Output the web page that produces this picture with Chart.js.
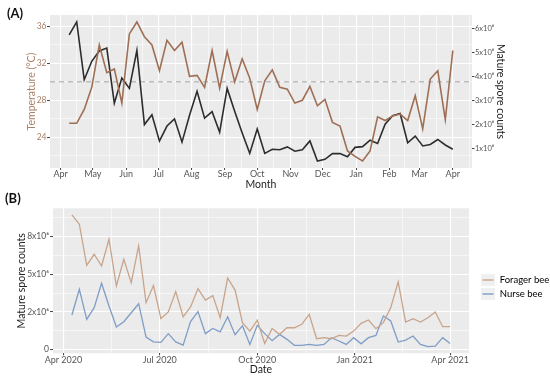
<!DOCTYPE html>
<html><head><meta charset="utf-8">
<script src="https://cdn.jsdelivr.net/npm/chart.js@4.4.0/dist/chart.umd.min.js"></script>
<style>
html,body{margin:0;padding:0;background:#fff;overflow:hidden;}
#wrap{position:relative;width:550px;height:378px;}
canvas{position:absolute;left:0;}
#cA{top:0;} #cB{top:190px;}
.panel{position:absolute;font-family:Lato,'Open Sans',sans-serif;font-weight:bold;font-size:13px;line-height:1.2;color:#111;}
</style></head><body>
<div id="wrap">
<canvas id="cA" width="550" height="192" style="width:550px;height:192px"></canvas>
<canvas id="cB" width="550" height="188" style="width:550px;height:188px"></canvas>
<div class="panel" style="left:7px;top:6px">(A)</div>
<div class="panel" style="left:5px;top:191px">(B)</div>
</div>
<script>
// ---------------- data ----------------
const weekDates = ['2020-04-09','2020-04-16','2020-04-23','2020-04-30','2020-05-07','2020-05-14','2020-05-21','2020-05-28',
 '2020-06-04','2020-06-11','2020-06-18','2020-06-25','2020-07-02','2020-07-09','2020-07-16','2020-07-23','2020-07-30',
 '2020-08-06','2020-08-13','2020-08-20','2020-08-27','2020-09-03','2020-09-10','2020-09-17','2020-09-24',
 '2020-10-01','2020-10-08','2020-10-15','2020-10-22','2020-10-29','2020-11-05','2020-11-12','2020-11-19','2020-11-26',
 '2020-12-03','2020-12-10','2020-12-17','2020-12-24','2020-12-31','2021-01-07','2021-01-14','2021-01-21','2021-01-28',
 '2021-02-04','2021-02-11','2021-02-18','2021-02-25','2021-03-04','2021-03-11','2021-03-18','2021-03-25','2021-04-01'];

const temperature = [25.5,25.5,27.0,29.4,34.0,31.0,31.4,27.7,35.2,36.5,34.9,34.0,31.2,34.5,33.4,34.3,30.6,30.7,29.4,33.4,
 29.3,33.3,30.0,32.5,30.4,27.0,30.1,31.3,29.4,29.2,27.7,28.0,29.5,27.4,28.1,25.6,25.2,22.5,21.9,21.4,22.5,26.2,25.8,26.3,
 26.5,25.8,28.5,24.9,30.3,31.2,25.9,33.4];

const sporeCountsA = [5.75e6,6.29e6,3.88e6,4.65e6,5.08e6,5.20e6,2.90e6,3.95e6,3.52e6,5.10e6,2.01e6,2.42e6,1.32e6,1.95e6,
 2.25e6,1.28e6,2.40e6,3.40e6,2.28e6,2.55e6,1.69e6,3.52e6,2.57e6,1.66e6,0.81e6,1.83e6,0.81e6,0.98e6,0.96e6,1.08e6,0.90e6,
 0.96e6,1.33e6,0.49e6,0.56e6,0.80e6,0.80e6,0.67e6,1.06e6,1.09e6,1.36e6,1.22e6,2.03e6,2.38e6,2.47e6,1.25e6,1.53e6,1.12e6,
 1.18e6,1.39e6,1.16e6,0.98e6];

const foragerCounts = [8.95e6,8.33e6,5.60e6,6.33e6,5.55e6,7.33e6,4.22e6,6.00e6,4.44e6,6.89e6,3.11e6,4.25e6,2.05e6,2.49e6,
 3.85e6,2.17e6,2.83e6,4.05e6,3.28e6,3.58e6,2.11e6,4.75e6,3.95e6,1.78e6,1.22e6,1.95e6,0.39e6,1.39e6,1.00e6,1.44e6,1.44e6,
 1.67e6,2.33e6,0.71e6,0.78e6,0.71e6,0.93e6,0.89e6,1.22e6,1.73e6,1.96e6,1.38e6,1.78e6,2.78e6,4.49e6,1.82e6,2.04e6,1.82e6,
 2.11e6,2.49e6,1.51e6,1.51e6];

const nurseCounts = [2.29e6,4.00e6,2.00e6,2.78e6,4.40e6,2.89e6,1.49e6,1.84e6,2.44e6,3.04e6,0.82e6,0.50e6,0.47e6,1.05e6,
 0.50e6,0.28e6,1.85e6,2.52e6,1.05e6,1.39e6,1.17e6,2.17e6,0.98e6,1.58e6,0.33e6,1.60e6,1.05e6,0.58e6,1.00e6,0.67e6,0.27e6,
 0.27e6,0.33e6,0.27e6,0.33e6,0.78e6,0.56e6,0.33e6,0.78e6,0.37e6,0.78e6,0.93e6,2.22e6,1.89e6,0.49e6,0.62e6,0.89e6,0.33e6,
 0.18e6,0.22e6,0.78e6,0.40e6];

const thresholdTemp = 30;
const seriesNames = ['Forager bee','Nurse bee'];

const monthTickDates = ['2020-04-01','2020-05-01','2020-06-01','2020-07-01','2020-08-01','2020-09-01','2020-10-01',
 '2020-11-01','2020-12-01','2021-01-01','2021-02-01','2021-03-01','2021-04-01'];
const monthTickLabels = ['Apr','May','Jun','Jul','Aug','Sep','Oct','Nov','Dec','Jan','Feb','Mar','Apr'];
const quarterTickDates = ['2020-04-01','2020-07-01','2020-10-01','2021-01-01','2021-04-01'];
const quarterTickLabels = ['Apr 2020','Jul 2020','Oct 2020','Jan 2021','Apr 2021'];
const tempTicks = [24,28,32,36];
const sporeTicksA = [1e6,2e6,3e6,4e6,5e6,6e6];
const sporeTickLabelsA = ['1x10\u2076','2x10\u2076','3x10\u2076','4x10\u2076','5x10\u2076','6x10\u2076'];
const sporeTicksB = [0,2.5e6,5e6,7.5e6];
const sporeTickLabelsB = ['0','2x10\u2076','5x10\u2076','8x10\u2076'];

// ---------------- helpers ----------------
const ORIGIN = Date.UTC(2020,3,1);
function dayOf(s){const p=s.split('-').map(Number);return (Date.UTC(p[0],p[1]-1,p[2])-ORIGIN)/86400000;}
const xDays = weekDates.map(dayOf);
function expand(lo,hi){const r=hi-lo;return [lo-0.05*r, hi+0.05*r];}
const [xMin,xMax] = expand(Math.min(...xDays), Math.max(...xDays));

function withMinors(majors, lo, hi){
  const out=[];
  majors.forEach(v=>out.push({value:v,minor:false}));
  for(let i=0;i<majors.length-1;i++) out.push({value:(majors[i]+majors[i+1])/2,minor:true});
  const d0=majors[1]-majors[0], d1=majors[majors.length-1]-majors[majors.length-2];
  out.push({value:majors[0]-d0/2,minor:true});
  out.push({value:majors[majors.length-1]+d1/2,minor:true});
  return out.filter(t=>t.value>=lo&&t.value<=hi).sort((a,b)=>a.value-b.value);
}

Chart.defaults.font.family = "Lato, 'Open Sans', sans-serif";
const tickFont = {size:9, lineHeight:1};
const yTickFont = {size:8.5, lineHeight:1};
const smallTickFont = {size:7.5, lineHeight:1};
const titleFont = {size:10.5};
const gridW = c => (c.tick && c.tick.minor) ? 0.55 : 1.1;
const tickC = c => (c.tick && c.tick.minor) ? 'rgba(0,0,0,0)' : '#444';

const panelBg = {id:'panelBg', beforeDraw(c){const a=c.chartArea,g=c.ctx;g.save();g.fillStyle='#ebebeb';
  g.fillRect(a.left,a.top,a.right-a.left,a.bottom-a.top);g.restore();}};

// ---------------- chart A ----------------
const [tLo,tHi] = expand(Math.min(...temperature), Math.max(...temperature));
const sMinA = Math.min(...sporeCountsA), sMaxA = Math.max(...sporeCountsA);
const tMin = Math.min(...temperature), tMax = Math.max(...temperature);
const k = (sMaxA-sMinA)/(tMax-tMin);
const sLo = sMinA + (tLo-tMin)*k, sHi = sMinA + (tHi-tMin)*k;

const monthDays = monthTickDates.map(dayOf);
const xTicksA = withMinors(monthDays, xMin, xMax);
const yTicksA = withMinors(tempTicks, tLo, tHi);

new Chart(document.getElementById('cA'), {
  type:'line',
  data:{datasets:[
    {label:'Temperature (°C)', data:xDays.map((x,i)=>({x,y:temperature[i]})), yAxisID:'yT',
      borderColor:'#9f6f55', borderWidth:1.6, pointRadius:0, tension:0},
    {label:'Mature spore counts', data:xDays.map((x,i)=>({x,y:sporeCountsA[i]})), yAxisID:'yS',
      borderColor:'#2d2d2d', borderWidth:1.6, pointRadius:0, tension:0},
    {label:'30 °C', data:[{x:xMin,y:thresholdTemp},{x:xMax,y:thresholdTemp}], yAxisID:'yT',
      borderColor:'#a3a3a3', borderWidth:1, borderDash:[5,4], pointRadius:0}
  ]},
  options:{
    responsive:false, animation:false, devicePixelRatio:1,
    layout:{padding:{top:15,left:0,right:0,bottom:0}},
    plugins:{legend:{display:false}, tooltip:{enabled:false}},
    scales:{
      x:{type:'linear', min:xMin, max:xMax,
        afterBuildTicks:s=>{s.ticks=xTicksA.map(t=>({...t}));},
        afterFit:s=>{s.height=24;},
        ticks:{autoSkip:false, maxRotation:0, padding:0, font:tickFont, color:'#555',
          callback:(v,i,ts)=>ts[i].minor?'':monthTickLabels[monthDays.indexOf(v)]},
        grid:{color:'#ffffff', lineWidth:gridW, tickColor:tickC, tickWidth:1, tickLength:2},
        border:{display:false},
        title:{display:true, text:'Month', color:'#222', font:titleFont, padding:{top:0,bottom:1.2}}},
      yT:{type:'linear', position:'left', min:tLo, max:tHi,
        afterBuildTicks:s=>{s.ticks=yTicksA.map(t=>({...t}));},
        afterFit:s=>{s.width=50;},
        ticks:{autoSkip:false, padding:0.5, font:yTickFont, color:'#a98068',
          callback:(v,i,ts)=>ts[i].minor?'':String(v)},
        grid:{color:'#ffffff', lineWidth:gridW, tickColor:tickC, tickWidth:1, tickLength:3},
        border:{display:false},
        title:{display:true, text:'Temperature (°C)', color:'#a98068', font:titleFont, padding:{top:25.2,bottom:0}}},
      yS:{type:'linear', position:'right', min:sLo, max:sHi,
        afterBuildTicks:s=>{s.ticks=sporeTicksA.map(v=>({value:v}));},
        afterFit:s=>{s.width=78;},
        ticks:{autoSkip:false, padding:0.5, font:smallTickFont, color:'#555',
          callback:(v)=>sporeTickLabelsA[sporeTicksA.indexOf(v)]},
        grid:{drawOnChartArea:false, tickColor:'#444', tickWidth:1, tickLength:2.5},
        border:{display:false},
        title:{display:true, text:'Mature spore counts', color:'#222', font:titleFont, padding:{top:43.7,bottom:0}}}
    }
  },
  plugins:[panelBg]
});

// ---------------- chart B ----------------
const allB = foragerCounts.concat(nurseCounts);
const [bLo,bHi] = expand(Math.min(...allB), Math.max(...allB));
const quarterDays = quarterTickDates.map(dayOf);
const xTicksB = withMinors(quarterDays, xMin, xMax);
const yTicksB = withMinors(sporeTicksB, bLo, bHi);
const seriesColors = ['#c8a48b','#7f9dc6'];

function keyImage(color){
  const c=document.createElement('canvas'); c.width=14; c.height=12;
  const g=c.getContext('2d'); g.fillStyle='#f0f0f0'; g.fillRect(0,0,14,12);
  g.strokeStyle=color; g.lineWidth=1.4; g.beginPath(); g.moveTo(1.5,6); g.lineTo(12.5,6); g.stroke();
  return c;
}
const keyImages = seriesColors.map(keyImage);

const legSize = 9.5, legPad = 4.5, keyW = 14;
const mctx = document.createElement('canvas').getContext('2d');
mctx.font = legSize + "px Lato, 'Open Sans', sans-serif";
const maxText = Math.max(...seriesNames.map(t=>mctx.measureText(t).width));
const legW = legPad + keyW + legSize/2 + maxText + 10;
const itemX = 481, plotRightB = 469;
const legLeft = itemX - legPad;
const padRightB = 550 - legLeft - legW;
const gapW = legLeft - plotRightB;

const legendShift = {id:'legendShift', afterLayout(c){
  const l=c.legend; if(!l) return;
  const itemH = legSize, colH = seriesNames.length*(itemH+legPad);
  const y0 = (280-190) - itemH/2;
  l.bottom = 2*y0 - (l.top + legPad) + colH;
}};

new Chart(document.getElementById('cB'), {
  type:'line',
  data:{datasets:[
    {label:seriesNames[0], data:xDays.map((x,i)=>({x,y:foragerCounts[i]})), borderColor:seriesColors[0],
      borderWidth:1.3, pointRadius:0, tension:0},
    {label:seriesNames[1], data:xDays.map((x,i)=>({x,y:nurseCounts[i]})), borderColor:seriesColors[1],
      borderWidth:1.3, pointRadius:0, tension:0}
  ]},
  options:{
    responsive:false, animation:false, devicePixelRatio:1,
    layout:{padding:{top:18.3,left:0,right:padRightB,bottom:0}},
    plugins:{tooltip:{enabled:false},
      legend:{display:true, position:'right', align:'center',
        labels:{usePointStyle:true, pointStyleWidth:keyW, padding:legPad, color:'#222',
          font:{size:legSize},
          generateLabels:(c)=>c.data.datasets.map((d,i)=>({text:d.label, pointStyle:keyImages[i],
            fillStyle:d.borderColor, strokeStyle:d.borderColor, lineWidth:0, hidden:false, datasetIndex:i}))}}},
    scales:{
      x:{type:'linear', min:xMin, max:xMax,
        afterBuildTicks:s=>{s.ticks=xTicksB.map(t=>({...t}));},
        afterFit:s=>{s.height=24.7;},
        ticks:{autoSkip:false, maxRotation:0, padding:0, font:tickFont, color:'#555',
          callback:(v,i,ts)=>ts[i].minor?'':quarterTickLabels[quarterDays.indexOf(v)]},
        grid:{color:'#ffffff', lineWidth:gridW, tickColor:tickC, tickWidth:1, tickLength:2},
        border:{display:false},
        title:{display:true, text:'Date', color:'#222', font:titleFont, padding:{top:0,bottom:2.2}}},
      y:{type:'linear', position:'left', min:bLo, max:bHi,
        afterBuildTicks:s=>{s.ticks=yTicksB.map(t=>({...t}));},
        afterFit:s=>{s.width=53;},
        ticks:{autoSkip:false, padding:1, font:yTickFont, color:'#555',
          callback:(v,i,ts)=>ts[i].minor?'':sporeTickLabelsB[sporeTicksB.indexOf(v)]},
        grid:{color:'#ffffff', lineWidth:gridW, tickColor:tickC, tickWidth:1, tickLength:3},
        border:{display:false},
        title:{display:true, text:'Mature spore counts', color:'#222', font:titleFont, padding:{top:15.4,bottom:0}}},
      gap:{type:'linear', position:'right', display:true,
        afterFit:s=>{s.width=gapW;},
        ticks:{display:false}, grid:{display:false}, border:{display:false}}
    }
  },
  plugins:[panelBg, legendShift]
});
</script>
</body></html>
